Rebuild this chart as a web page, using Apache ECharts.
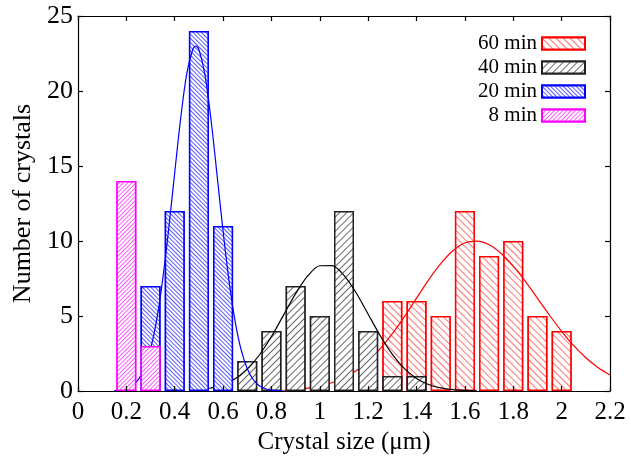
<!DOCTYPE html>
<html>
<head>
<meta charset="utf-8">
<script src="https://cdn.jsdelivr.net/npm/echarts@6/dist/echarts.min.js"></script>
<style>
html,body{margin:0;padding:0;background:#fff;}
#chart{width:631px;height:468px;}
</style>
</head>
<body>
<div id="chart"></div>
<script>
// Histogram bins (bin centre in µm) and counts
const bins60X = [1.3, 1.4, 1.5, 1.6, 1.7, 1.8, 1.9, 2.0];
const bins60Y = [6, 6, 5, 12, 9, 10, 5, 4];
const bins40X = [0.7, 0.8, 0.9, 1.0, 1.1, 1.2, 1.3, 1.4];
const bins40Y = [2, 4, 7, 5, 12, 4, 1, 1];
const bins20X = [0.3, 0.4, 0.5, 0.6];
const bins20Y = [7, 12, 24, 11];
const bins8X = [0.2, 0.3];
const bins8Y = [14, 3];

// Fitted curves
const fit60X = [0.85, 0.9, 0.95, 1.0, 1.05, 1.1, 1.15, 1.2, 1.25, 1.3, 1.35, 1.4, 1.45, 1.5, 1.55, 1.6, 1.65, 1.7, 1.75, 1.8, 1.85, 1.9, 1.95, 2.0, 2.05, 2.1, 2.15, 2.2];
const fit60Y = [0.05, 0.10, 0.19, 0.33, 0.55, 0.88, 1.35, 1.99, 2.82, 3.82, 4.96, 6.19, 7.41, 8.49, 9.35, 9.87, 9.99, 9.75, 9.17, 8.33, 7.31, 6.18, 5.05, 3.98, 3.02, 2.22, 1.57, 1.07];
const fit40X = [0.525, 0.55, 0.6, 0.65, 0.7, 0.75, 0.8, 0.85, 0.9, 0.95, 1.0, 1.05, 1.1, 1.15, 1.2, 1.25, 1.3, 1.35, 1.4, 1.45, 1.5, 1.55, 1.6, 1.65];
const fit40Y = [0.13, 0.2, 0.42, 0.82, 1.46, 2.40, 3.63, 5.06, 6.49, 7.67, 8.35, 8.36, 7.71, 6.55, 5.12, 3.68, 2.44, 1.49, 0.84, 0.43, 0.21, 0.09, 0.04, 0.015];
const fit20X = [0.15, 0.175, 0.2, 0.225, 0.25, 0.275, 0.3, 0.325, 0.35, 0.375, 0.4, 0.425, 0.45, 0.475, 0.487, 0.5, 0.525, 0.55, 0.575, 0.6, 0.625, 0.65, 0.675, 0.7, 0.725, 0.75, 0.775, 0.8, 0.825, 0.85];
const fit20Y = [0.02, 0.06, 0.16, 0.37, 0.77, 1.53, 2.79, 4.71, 7.41, 10.79, 14.56, 18.24, 21.17, 22.8, 23.0, 22.77, 21.08, 18.1, 14.41, 10.64, 7.28, 4.63, 2.72, 1.49, 0.75, 0.35, 0.15, 0.06, 0.02, 0.01];

const seriesNames = ['60 min', '40 min', '20 min', '8 min'];
const xAxisName = 'Crystal size (\u03bcm)';
const yAxisName = 'Number of crystals';

const pair = (xs, ys) => xs.map((x, i) => [x, ys[i]]);
const FONT = 'Liberation Serif';

function barSeries(name, xs, ys, border, hatch, rot, dash, z) {
  return {
    type: 'bar', name: name, data: pair(xs, ys),
    barWidth: 20, barGap: '-100%', z: z,
    itemStyle: {
      color: '#ffffff', borderColor: border, borderWidth: 1.5,
      decal: { symbol: 'rect', color: hatch, backgroundColor: '#ffffff',
               dashArrayX: [1, 0], dashArrayY: dash, rotation: rot }
    }
  };
}
function lineSeries(xs, ys, color, z) {
  return {
    type: 'line', data: pair(xs, ys), showSymbol: false, symbol: 'none',
    smooth: 0.3, z: z, silent: true,
    lineStyle: { color: color, width: 1.2 }
  };
}

const chart = echarts.init(document.getElementById('chart'), null, { renderer: 'canvas' });
const axisLineStyle = { color: '#000', width: 1.2 };
chart.setOption({
  animation: false,
  backgroundColor: '#fff',
  textStyle: { fontFamily: FONT },
  grid: { left: 78, right: 21, top: 16, bottom: 77 },
  legend: {
    data: seriesNames, orient: 'vertical', align: 'right',
    right: 45, top: 33, padding: 0,
    itemWidth: 43, itemHeight: 12, itemGap: 3,
    textStyle: { fontFamily: FONT, fontSize: 21, color: '#000' },
    icon: 'rect'
  },
  xAxis: [{
    type: 'value', min: 0, max: 2.2, interval: 0.2, z: 20,
    name: xAxisName, nameLocation: 'middle', nameGap: 38,
    nameTextStyle: { fontFamily: FONT, fontSize: 25, color: '#000' },
    axisLine: { show: true, lineStyle: axisLineStyle },
    axisTick: { show: true, inside: true, length: 5, lineStyle: axisLineStyle },
    axisLabel: { fontFamily: FONT, fontSize: 25, color: '#000', margin: 9 },
    splitLine: { show: false }
  }, {
    type: 'value', min: 0, max: 2.2, interval: 0.2, position: 'top', z: 20,
    axisLine: { show: true, onZero: false, lineStyle: axisLineStyle },
    axisTick: { show: true, inside: true, length: 5, lineStyle: axisLineStyle },
    axisLabel: { show: false }, splitLine: { show: false }
  }],
  yAxis: [{
    type: 'value', min: 0, max: 25, interval: 5, z: 20,
    name: yAxisName, nameLocation: 'middle', nameGap: 42,
    nameTextStyle: { fontFamily: FONT, fontSize: 26, color: '#000' },
    axisLine: { show: true, lineStyle: axisLineStyle },
    axisTick: { show: true, inside: true, length: 5, lineStyle: axisLineStyle },
    axisLabel: { fontFamily: FONT, fontSize: 26, color: '#000', margin: 5 },
    splitLine: { show: false }
  }, {
    type: 'value', min: 0, max: 25, interval: 5, position: 'right', z: 20,
    axisLine: { show: true, onZero: false, lineStyle: axisLineStyle },
    axisTick: { show: true, inside: true, length: 5, lineStyle: axisLineStyle },
    axisLabel: { show: false }, splitLine: { show: false }
  }],
  series: [
    barSeries(seriesNames[0], bins60X, bins60Y, '#ff0000', 'rgba(255,0,0,0.55)', Math.PI / 4, [1, 4], 2),
    lineSeries(fit60X, fit60Y, '#ff0000', 3),
    barSeries(seriesNames[1], bins40X, bins40Y, '#222222', 'rgba(0,0,0,0.6)', -Math.PI / 4, [1, 4], 4),
    lineSeries(fit40X, fit40Y, '#000000', 5),
    barSeries(seriesNames[2], bins20X, bins20Y, '#0000ff', 'rgba(0,0,255,0.65)', Math.PI / 4, [1, 2], 6),
    lineSeries(fit20X, fit20Y, '#0000ff', 7),
    barSeries(seriesNames[3], bins8X, bins8Y, '#ff00ff', 'rgba(255,0,255,0.65)', -Math.PI / 4, [1, 2], 8)
  ]
});
</script>
</body>
</html>
